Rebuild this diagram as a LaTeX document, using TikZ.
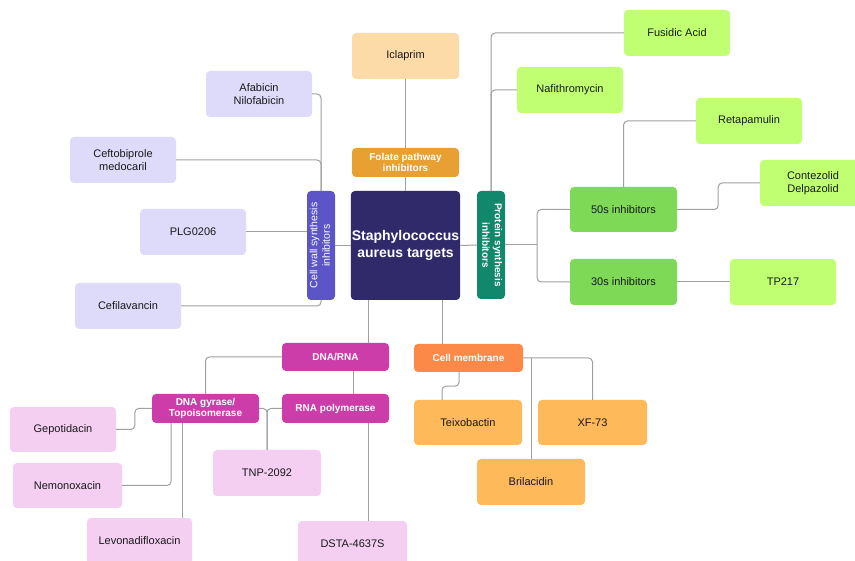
\documentclass[tikz,border=0pt]{standalone}
\usepackage{fontspec}
\setmainfont{Liberation Sans}
\usepackage{graphicx}
\definecolor{lav}{RGB}{222,219,250}
\definecolor{cwall}{RGB}{92,85,200}
\definecolor{navy}{RGB}{48,42,106}
\definecolor{peach}{RGB}{253,219,168}
\definecolor{folate}{RGB}{232,160,50}
\definecolor{teal}{RGB}{17,135,108}
\definecolor{midgreen}{RGB}{126,217,87}
\definecolor{litegreen}{RGB}{193,255,114}
\definecolor{magenta}{RGB}{204,61,170}
\definecolor{pink}{RGB}{245,207,242}
\definecolor{memb}{RGB}{253,137,72}
\definecolor{liteorange}{RGB}{254,185,90}
\definecolor{linegray}{RGB}{160,160,160}
\tikzset{
  box/.style={rectangle, rounded corners=4pt, minimum width=106pt, minimum height=46pt,
    inner sep=1pt, align=center, font=\fontsize{11}{13}\selectfont, text=black!90},
  head/.style={box, minimum height=28pt, font=\bfseries\fontsize{10}{11}\selectfont, text=white},
  conn/.style={draw=linegray, line width=1pt, rounded corners=4pt}
}
\begin{document}
\begin{tikzpicture}[x=1pt,y=-1pt]
\useasboundingbox[fill=white] (0,0) rectangle (855,561);
% centre and categories
\node[box, fill=navy, minimum width=109pt, minimum height=109pt, text=white,
  font=\bfseries\fontsize{14}{17}\selectfont] (center) at (405.5,245.5) {Staphylococcus\\aureus targets};
\node[box, fill=peach, minimum width=107pt] (iclaprim) at (405.5,56) {Iclaprim};
\node[head, fill=folate, minimum width=107pt, minimum height=29pt] (folate) at (405.5,162.5) {Folate pathway\\inhibitors};
\node[box, fill=cwall, minimum width=28pt, minimum height=109pt, text=white,
  font=\fontsize{10.5}{12.5}\selectfont] (cellwall) at (321,245.5)
  {\rotatebox{90}{\begin{tabular}{@{}c@{}}Cell wall synthesis\\inhibitors\end{tabular}}};
\node[box, fill=teal, minimum width=28pt, minimum height=108pt, text=white,
  font=\bfseries\fontsize{10}{12.5}\selectfont] (protein) at (491,245)
  {\rotatebox{-90}{\begin{tabular}{@{}c@{}}Protein synthesis\\inhibitors\end{tabular}}};
% cell wall drugs
\node[box, fill=lav] (afabicin) at (259,94) {Afabicin\\Nilofabicin};
\node[box, fill=lav] (ceftobiprole) at (123,160) {Ceftobiprole\\medocaril};
\node[box, fill=lav] (plg) at (193,232) {PLG0206};
\node[box, fill=lav] (cefilavancin) at (128,306) {Cefilavancin};
% protein synthesis
\node[box, fill=litegreen] (fusidic) at (677,33) {Fusidic Acid};
\node[box, fill=litegreen] (nafith) at (570,90) {Nafithromycin};
\node[box, fill=litegreen] (retapamulin) at (749,121) {Retapamulin};
\node[box, fill=litegreen] (contezolid) at (813,183) {Contezolid\\Delpazolid};
\node[box, fill=midgreen, minimum width=107pt, minimum height=45pt] (s50) at (623.5,209.5) {50s inhibitors};
\node[box, fill=midgreen, minimum width=107pt] (s30) at (623.5,282) {30s inhibitors};
\node[box, fill=litegreen] (tp217) at (783,282) {TP217};
% DNA / RNA
\node[head, fill=magenta, minimum width=107pt] (dnarna) at (335.5,357) {DNA/RNA};
\node[head, fill=magenta, minimum width=107pt, minimum height=29pt] (gyrase) at (205.5,408.5) {DNA gyrase/\\Topoisomerase};
\node[head, fill=magenta, minimum width=107pt, minimum height=29pt] (rnapol) at (335.5,408.5) {RNA polymerase};
\node[box, fill=pink, minimum height=45pt] (gepotidacin) at (63,429.5) {Gepotidacin};
\node[box, fill=pink, minimum width=109pt, minimum height=45pt] (nemonoxacin) at (67.5,485.5) {Nemonoxacin};
\node[box, fill=pink, minimum width=105pt] (levonadifloxacin) at (139.5,541) {Levonadifloxacin};
\node[box, fill=pink, minimum width=108pt] (tnp) at (267,473) {TNP-2092};
\node[box, fill=pink, minimum width=109pt] (dsta) at (352.5,544) {DSTA-4637S};
% cell membrane
\node[head, fill=memb, minimum width=109pt] (cellmem) at (468.5,358) {Cell membrane};
\node[box, fill=liteorange, minimum width=108pt, minimum height=45pt] (teixobactin) at (468,422.5) {Teixobactin};
\node[box, fill=liteorange, minimum width=109pt, minimum height=45pt] (xf73) at (592.5,422.5) {XF-73};
\node[box, fill=liteorange, minimum width=108pt] (brilacidin) at (531,482) {Brilacidin};
% connectors
\draw[conn] (iclaprim) -- (folate);
\draw[conn] (folate) -- (center);
\draw[conn] (center.west) -- (cellwall.east);
\draw[conn] (center.east) -- (protein.west);
\draw[conn] (afabicin.east) -| (cellwall.north);
\draw[conn] (ceftobiprole.east) -| (cellwall.north);
\draw[conn] (plg.east) -- (plg.east -| cellwall.west);
\draw[conn] (cefilavancin.east) -| (cellwall.south);
\draw[conn] (protein.north) |- (fusidic.west);
\draw[conn] (protein.north) |- (nafith.west);
\coordinate (pj) at ([xshift=32pt]protein.east);
\draw[conn] (protein.east) -- (pj);
\draw[conn] (pj) |- (s50.west);
\draw[conn] (pj) |- (s30.west);
\draw[conn] (s50.north) |- (retapamulin.west);
\draw[conn] (s50.east) -- ([xshift=41pt]s50.east) |- (contezolid.west);
\draw[conn] (s30.east) -- (tp217.west);
\draw[conn] ([xshift=32.5pt]dnarna.north) -- ([xshift=32.5pt]dnarna.north |- center.south);
\draw[conn] (dnarna.west) -| (gyrase.north);
\draw[conn] ([xshift=17.5pt]dnarna.south) -- ([xshift=17.5pt]rnapol.north);
\draw[conn] (gyrase.west) -- ([xshift=-17pt]gyrase.west) |- (gepotidacin.east);
\draw[conn] ([xshift=-34.5pt]gyrase.south) |- (nemonoxacin.east);
\draw[conn] ([xshift=-23.5pt]gyrase.south) -- ([xshift=-23.5pt]gyrase.south |- levonadifloxacin.north);
\draw[conn] (gyrase.east) -| (tnp.north);
\draw[conn] (rnapol.west) -| (tnp.north);
\draw[conn] ([xshift=32.5pt]rnapol.south) -- ([xshift=32.5pt]rnapol.south |- dsta.north);
\draw[conn] ([xshift=-26.5pt]cellmem.north) -- ([xshift=-26.5pt]cellmem.north |- center.south);
\draw[conn] ([xshift=-9.5pt]cellmem.south) -- ([xshift=-9.5pt,yshift=-14pt]cellmem.south) -| ([xshift=-26pt]teixobactin.north);
\draw[conn] (cellmem.east) -| (xf73.north);
\draw[conn] (brilacidin.north) -- (brilacidin.north |- cellmem.east);
\end{tikzpicture}
\end{document}
